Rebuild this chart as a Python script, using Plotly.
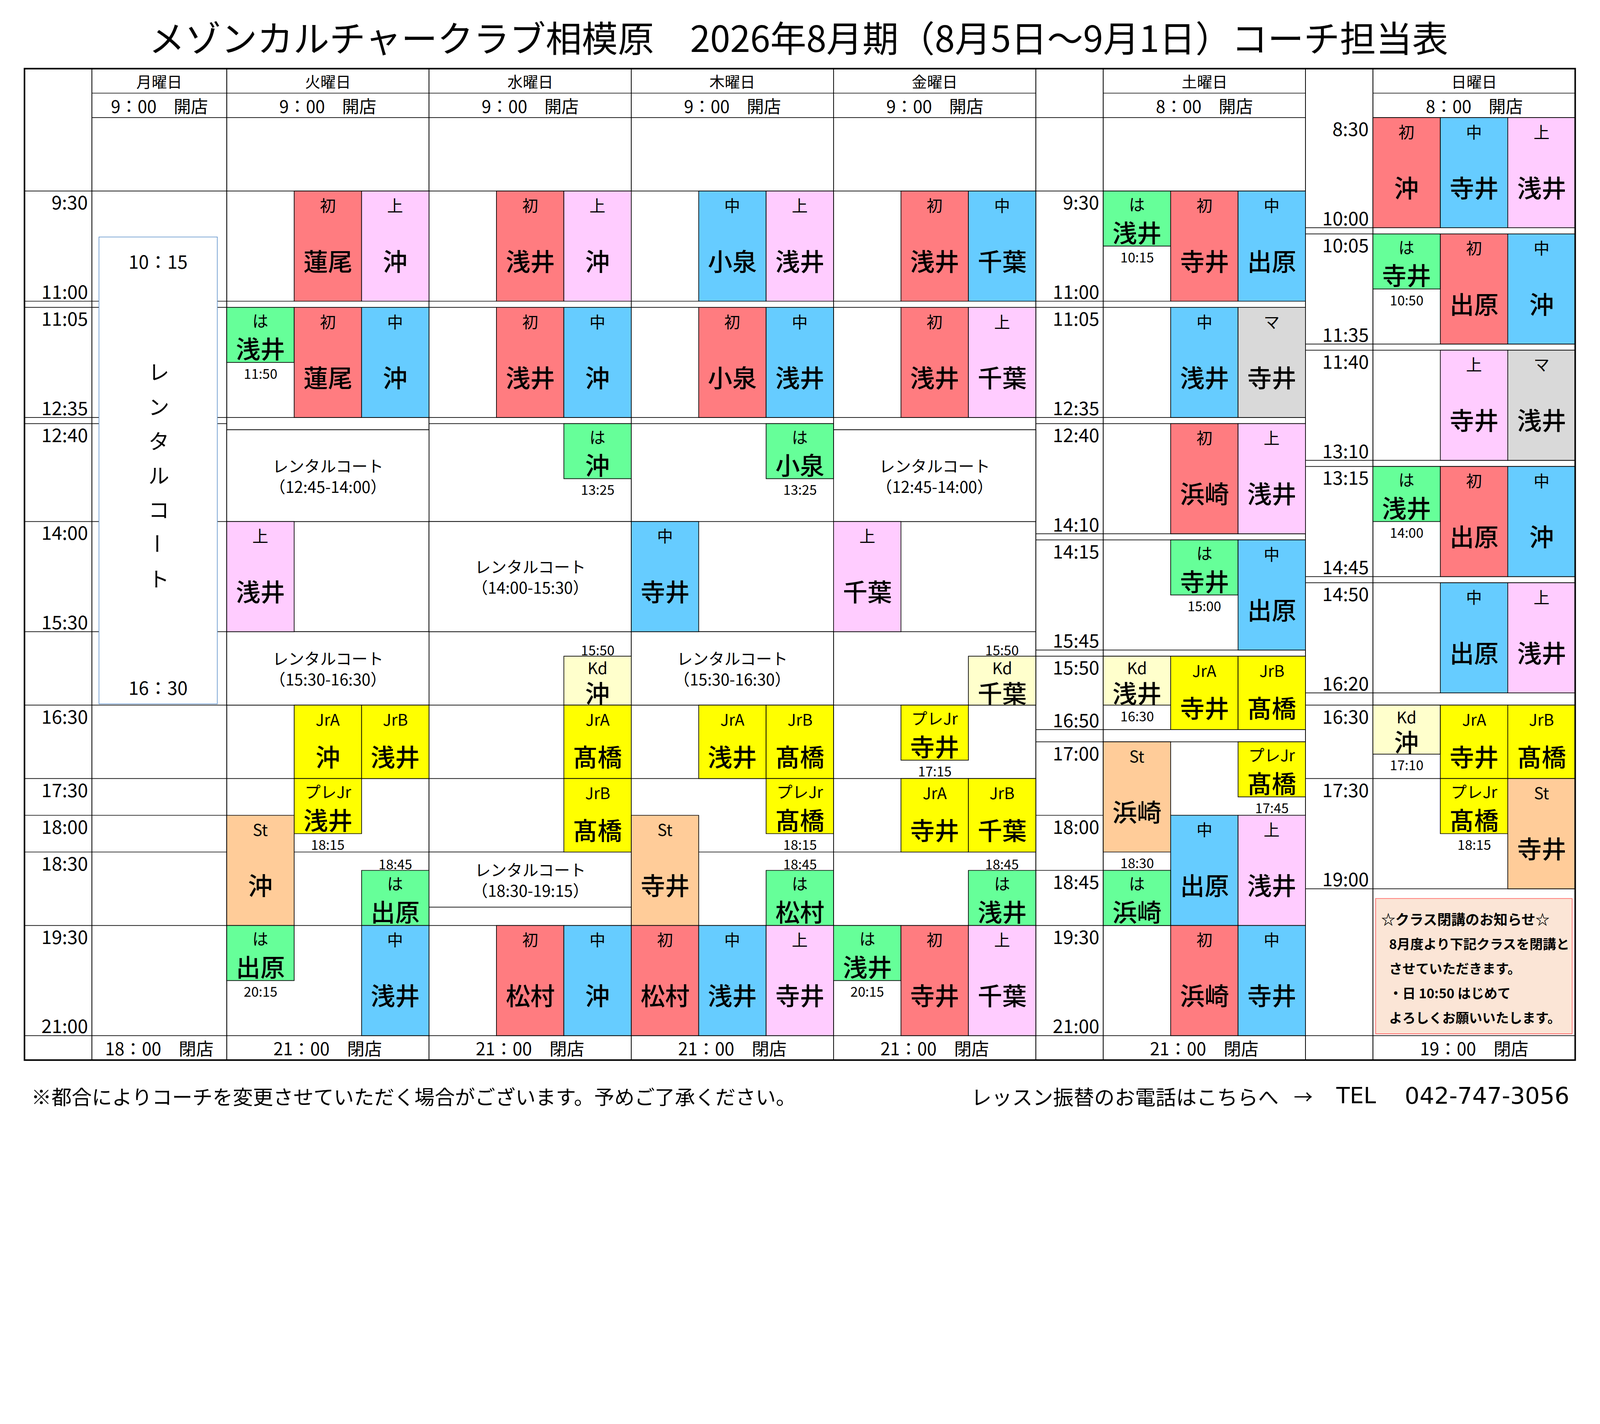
import plotly.graph_objects as go

# ---------------- data ----------------
TITLE = "メゾンカルチャークラブ相模原　2026年8月期（8月5日～9月1日）コーチ担当表"
DAYS = ["月曜日", "火曜日", "水曜日", "木曜日", "金曜日", "土曜日", "日曜日"]
OPEN_TIMES = ["9：00", "9：00", "9：00", "9：00", "9：00", "8：00", "8：00"]
CLOSE_TIMES = ["18：00", "21：00", "21：00", "21：00", "21：00", "21：00", "19：00"]
COURTS = [2, 3, 3, 3, 3, 3, 3]
TIME_COLUMN_BEFORE = [0, 5, 6]

ROWS_MON = ["8:30", "9:30", "11:00", "11:05", "12:35", "12:40", "14:00", "15:30", "16:30",
            "17:30", "18:00", "18:30", "19:30", "21:00"]
ROWS_TUE = ["8:30", "9:30", "11:00", "11:05", "12:35", "12:45", "14:00", "15:30", "16:30",
            "17:30", "18:30", "19:30", "21:00"]
ROWS_WED = ["8:30", "9:30", "11:00", "11:05", "12:35", "12:40", "14:00", "15:30", "16:30",
            "17:30", "18:30", "19:30", "21:00"]
ROWS_THU = ROWS_WED
ROWS_FRI = ROWS_TUE
ROWS_SAT = ["8:30", "9:30", "11:00", "11:05", "12:35", "12:40", "14:10", "14:15", "15:45",
            "15:50", "16:50", "17:00", "18:00", "18:45", "19:30", "21:00"]
ROWS_SUN = ["8:30", "10:00", "10:05", "11:35", "11:40", "13:10", "13:15", "14:45", "14:50",
            "16:20", "16:30", "17:30", "19:00", "21:00"]
ROWS = [ROWS_MON, ROWS_TUE, ROWS_WED, ROWS_THU, ROWS_FRI, ROWS_SAT, ROWS_SUN]

TIME_LABELS_WEEKDAY = [("9:30", "top"), ("11:00", "bottom"), ("11:05", "top"), ("12:35", "bottom"),
                       ("12:40", "top"), ("14:00", "top"), ("15:30", "bottom"), ("16:30", "top"),
                       ("17:30", "top"), ("18:00", "top"), ("18:30", "top"), ("19:30", "top"),
                       ("21:00", "bottom")]
TIME_LABELS_SAT = [("9:30", "top"), ("11:00", "bottom"), ("11:05", "top"), ("12:35", "bottom"),
                   ("12:40", "top"), ("14:10", "bottom"), ("14:15", "top"), ("15:45", "bottom"),
                   ("15:50", "top"), ("16:50", "bottom"), ("17:00", "top"), ("18:00", "top"),
                   ("18:45", "top"), ("19:30", "top"), ("21:00", "bottom")]
TIME_LABELS_SUN = [("8:30", "top"), ("10:00", "bottom"), ("10:05", "top"), ("11:35", "bottom"),
                   ("11:40", "top"), ("13:10", "bottom"), ("13:15", "top"), ("14:45", "bottom"),
                   ("14:50", "top"), ("16:20", "bottom"), ("16:30", "top"), ("17:30", "top"),
                   ("19:00", "bottom")]
TIME_LABELS = [TIME_LABELS_WEEKDAY, TIME_LABELS_SAT, TIME_LABELS_SUN]

# (court, class, start, end, coach, time note)
LESSONS_TUE = [
    (1, "初", "9:30", "11:00", "蓮尾", ""), (2, "上", "9:30", "11:00", "沖", ""),
    (0, "は", "11:05", "11:50", "浅井", "end"), (1, "初", "11:05", "12:35", "蓮尾", ""),
    (2, "中", "11:05", "12:35", "沖", ""), (0, "上", "14:00", "15:30", "浅井", ""),
    (1, "JrA", "16:30", "17:30", "沖", ""), (2, "JrB", "16:30", "17:30", "浅井", ""),
    (1, "プレJr", "17:30", "18:15", "浅井", "end"), (0, "St", "18:00", "19:30", "沖", ""),
    (2, "は", "18:45", "19:30", "出原", "start"), (0, "は", "19:30", "20:15", "出原", "end"),
    (2, "中", "19:30", "21:00", "浅井", ""),
]
LESSONS_WED = [
    (1, "初", "9:30", "11:00", "浅井", ""), (2, "上", "9:30", "11:00", "沖", ""),
    (1, "初", "11:05", "12:35", "浅井", ""), (2, "中", "11:05", "12:35", "沖", ""),
    (2, "は", "12:40", "13:25", "沖", "end"), (2, "Kd", "15:50", "16:30", "沖", "start"),
    (2, "JrA", "16:30", "17:30", "髙橋", ""), (2, "JrB", "17:30", "18:30", "髙橋", ""),
    (1, "初", "19:30", "21:00", "松村", ""), (2, "中", "19:30", "21:00", "沖", ""),
]
LESSONS_THU = [
    (1, "中", "9:30", "11:00", "小泉", ""), (2, "上", "9:30", "11:00", "浅井", ""),
    (1, "初", "11:05", "12:35", "小泉", ""), (2, "中", "11:05", "12:35", "浅井", ""),
    (2, "は", "12:40", "13:25", "小泉", "end"), (0, "中", "14:00", "15:30", "寺井", ""),
    (1, "JrA", "16:30", "17:30", "浅井", ""), (2, "JrB", "16:30", "17:30", "髙橋", ""),
    (2, "プレJr", "17:30", "18:15", "髙橋", "end"), (0, "St", "18:00", "19:30", "寺井", ""),
    (2, "は", "18:45", "19:30", "松村", "start"), (0, "初", "19:30", "21:00", "松村", ""),
    (1, "中", "19:30", "21:00", "浅井", ""), (2, "上", "19:30", "21:00", "寺井", ""),
]
LESSONS_FRI = [
    (1, "初", "9:30", "11:00", "浅井", ""), (2, "中", "9:30", "11:00", "千葉", ""),
    (1, "初", "11:05", "12:35", "浅井", ""), (2, "上", "11:05", "12:35", "千葉", ""),
    (0, "上", "14:00", "15:30", "千葉", ""), (2, "Kd", "15:50", "16:30", "千葉", "start"),
    (1, "プレJr", "16:30", "17:15", "寺井", "end"), (1, "JrA", "17:30", "18:30", "寺井", ""),
    (2, "JrB", "17:30", "18:30", "千葉", ""), (2, "は", "18:45", "19:30", "浅井", "start"),
    (0, "は", "19:30", "20:15", "浅井", "end"), (1, "初", "19:30", "21:00", "寺井", ""),
    (2, "上", "19:30", "21:00", "千葉", ""),
]
LESSONS_SAT = [
    (0, "は", "9:30", "10:15", "浅井", "end"), (1, "初", "9:30", "11:00", "寺井", ""),
    (2, "中", "9:30", "11:00", "出原", ""), (1, "中", "11:05", "12:35", "浅井", ""),
    (2, "マ", "11:05", "12:35", "寺井", ""), (1, "初", "12:40", "14:10", "浜崎", ""),
    (2, "上", "12:40", "14:10", "浅井", ""), (1, "は", "14:15", "15:00", "寺井", "end"),
    (2, "中", "14:15", "15:45", "出原", ""), (0, "Kd", "15:50", "16:30", "浅井", "end"),
    (1, "JrA", "15:50", "16:50", "寺井", ""), (2, "JrB", "15:50", "16:50", "髙橋", ""),
    (0, "St", "17:00", "18:30", "浜崎", "end"), (2, "プレJr", "17:00", "17:45", "髙橋", "end"),
    (1, "中", "18:00", "19:30", "出原", ""), (2, "上", "18:00", "19:30", "浅井", ""),
    (0, "は", "18:45", "19:30", "浜崎", ""), (1, "初", "19:30", "21:00", "浜崎", ""),
    (2, "中", "19:30", "21:00", "寺井", ""),
]
LESSONS_SUN = [
    (0, "初", "8:30", "10:00", "沖", ""), (1, "中", "8:30", "10:00", "寺井", ""),
    (2, "上", "8:30", "10:00", "浅井", ""), (0, "は", "10:05", "10:50", "寺井", "end"),
    (1, "初", "10:05", "11:35", "出原", ""), (2, "中", "10:05", "11:35", "沖", ""),
    (1, "上", "11:40", "13:10", "寺井", ""), (2, "マ", "11:40", "13:10", "浅井", ""),
    (0, "は", "13:15", "14:00", "浅井", "end"), (1, "初", "13:15", "14:45", "出原", ""),
    (2, "中", "13:15", "14:45", "沖", ""), (1, "中", "14:50", "16:20", "出原", ""),
    (2, "上", "14:50", "16:20", "浅井", ""), (0, "Kd", "16:30", "17:10", "沖", "end"),
    (1, "JrA", "16:30", "17:30", "寺井", ""), (2, "JrB", "16:30", "17:30", "髙橋", ""),
    (1, "プレJr", "17:30", "18:15", "髙橋", "end"), (2, "St", "17:30", "19:00", "寺井", ""),
]
LESSONS = [[], LESSONS_TUE, LESSONS_WED, LESSONS_THU, LESSONS_FRI, LESSONS_SAT, LESSONS_SUN]

# (day, start, end)
RENTAL = [(1, "12:45", "14:00"), (1, "15:30", "16:30"), (2, "14:00", "15:30"),
          (2, "18:30", "19:15"), (3, "15:30", "16:30"), (4, "12:45", "14:00")]
RENTAL_LABEL = "レンタルコート"
MON_RENTAL = ("10:15", "16:30")

NOTICE_LINES = ["☆クラス閉講のお知らせ☆", "8月度より下記クラスを閉講と", "させていただきます。",
                "・日 10:50 はじめて", "よろしくお願いいたします。"]
FOOTER_LEFT = "※都合によりコーチを変更させていただく場合がございます。予めご了承ください。"
FOOTER_RIGHT = ["レッスン振替のお電話はこちらへ", "→", "TEL", "042-747-3056"]

# ---------------- styles ----------------
CLASS_COLORS = {"初": "#FF7C80", "上": "#FFCCFF", "中": "#66CCFF", "は": "#66FF99",
                "マ": "#D9D9D9", "JrA": "#FFFF00", "JrB": "#FFFF00", "プレJr": "#FFFF00",
                "St": "#FFCC99", "Kd": "#FFFFCC"}
FONT = "Noto Sans CJK JP"
LATIN = "DejaVu Sans"

# page geometry: screenshot pixels vs CSS pixels
S = 5228 / 4096.0          # device pixel ratio of the capture
MARGIN = 8                 # default body margin (CSS px)
FIG_W, FIG_H = 4078, 2836  # CSS px


def px(v):
    """screenshot pixels -> CSS pixels"""
    return v / S


LW = px(2.2)
OUTER_LW = px(5)


def tm(s):
    h, m = s.split(":")
    return int(h) * 60 + int(m)


# column structure
col_x, timecol_x = [], []
x = 0
for d in range(7):
    if d in TIME_COLUMN_BEFORE:
        timecol_x.append(x)
        x += 1
    col_x.append(x)
    x += COURTS[d]
TOTAL = x

FIRST = tm("8:30")
TOP = FIRST - 40
BOTTOM = tm("21:00") + 20

shapes, annos = [], []


def hline(x0, x1, y, w=None):
    shapes.append(dict(type="line", xref="x", yref="y", x0=x0, x1=x1, y0=y, y1=y,
                       line=dict(color="black", width=w or LW)))


def vline(xx, y0, y1, w=None):
    shapes.append(dict(type="line", xref="x", yref="y", x0=xx, x1=xx, y0=y0, y1=y1,
                       line=dict(color="black", width=w or LW)))


def rect(x0, x1, y0, y1, fill, lc="black", lw=None):
    shapes.append(dict(type="rect", xref="x", yref="y", x0=x0, x1=x1, y0=y0, y1=y1,
                       fillcolor=fill, line=dict(color=lc, width=lw or LW)))


def text(xx, yy, s, size, xa="center", ya="middle", weight="normal", family=FONT, angle=0):
    annos.append(dict(x=xx, y=yy, xref="x", yref="y", text=s, showarrow=False,
                      xanchor=xa, yanchor=ya, textangle=angle,
                      font=dict(family=family, size=px(size), color="black", weight=weight)))


# grid lines
for d in range(7):
    x0, x1 = col_x[d], col_x[d] + COURTS[d]
    hline(x0, x1, TOP + 20)
    for t in ROWS[d]:
        hline(x0, x1, tm(t))
    vline(x0, TOP, BOTTOM)
    vline(x1, TOP, BOTTOM)
    text((x0 + x1) / 2, TOP + 10, DAYS[d], 50)
    text((x0 + x1) / 2, TOP + 30, OPEN_TIMES[d] + "　開店", 56)
    text((x0 + x1) / 2, BOTTOM - 10, CLOSE_TIMES[d] + "　閉店", 57)

TIMECOL_ROWS = [ROWS_MON[1:], ROWS_SAT, ROWS_SUN[1:]]
for i, tc in enumerate(timecol_x):
    for t in TIMECOL_ROWS[i]:
        hline(tc, tc + 1, tm(t))
    vline(tc, TOP, BOTTOM)
    vline(tc + 1, TOP, BOTTOM)
    for lab, pos in TIME_LABELS[i]:
        yy = tm(lab) + 8.5 if pos == "top" else tm(lab) - 8.5
        text(tc + 1 - 0.05, yy, lab, 61, xa="right")

# rental courts
for d, s, e in RENTAL:
    x0, x1 = col_x[d], col_x[d] + COURTS[d]
    rect(x0, x1, tm(s), tm(e), "white")
    text((x0 + x1) / 2, (tm(s) + tm(e)) / 2,
         RENTAL_LABEL + "<br>（" + s + "-" + e + "）", 52)

# Monday rental court box
ms, me = tm(MON_RENTAL[0]), tm(MON_RENTAL[1])
rect(col_x[0] + 0.105, col_x[0] + COURTS[0] - 0.14, ms - 7.5, me - 1, "white",
     lc="#5B8FC9", lw=px(2))
mcx = col_x[0] + COURTS[0] / 2 - 0.02
text(mcx, ms + 12, MON_RENTAL[0].replace(":", "："), 60)
text(mcx, me - 15, MON_RENTAL[1].replace(":", "："), 60)
chars = list(RENTAL_LABEL)
c0, c1 = ms + 102, me - 104
for k, ch in enumerate(chars):
    text(mcx + 0.01, c0 + (c1 - c0) * k / (len(chars) - 1), ch, 68,
         angle=90 if ch == "ー" else 0)

# lessons
for d in range(7):
    for court, cls, s, e, coach, note in LESSONS[d]:
        x0 = col_x[d] + court
        t0, t1 = tm(s), tm(e)
        dur = t1 - t0
        rect(x0, x0 + 1, t0, t1, CLASS_COLORS[cls])
        lab_off = min(11.2, dur * 0.23)
        text(x0 + 0.5, t0 + lab_off, cls, 52)
        text(x0 + 0.5, t0 + lab_off + dur / 2, coach, 80, weight=500)
        if note == "end":
            text(x0 + 0.5, t1 + 8.5, e, 44)
        elif note == "start":
            text(x0 + 0.5, t0 - 5.5, s, 44)

# notice box (Sunday, after closing)
sx = col_x[6]
rect(sx + 0.04, sx + COURTS[6] - 0.045, tm("19:00") + 8, tm("21:00") - 1.5, "#FBE5D6",
     lc="#FF5757", lw=px(2))
ny0 = tm("19:00") + 24.3
for k, line in enumerate(NOTICE_LINES):
    xx = sx + 0.11 if k == 0 else sx + 0.23
    text(xx, ny0 + 20.1 * k, line, 43.5 if k else 46, xa="left", weight="bold")

# outer border
rect(0, TOTAL, TOP, BOTTOM, "rgba(0,0,0,0)", lw=OUTER_LW)

# title and footer
text(TOTAL / 2 - 0.02, TOP - 26.4, TITLE, 118)
FOOT_Y = BOTTOM + 29.2
text(0.09, FOOT_Y, FOOTER_LEFT, 66, xa="left")
text(14.03, FOOT_Y, FOOTER_RIGHT[0], 67, xa="left")
text(18.97, FOOT_Y, FOOTER_RIGHT[1], 62)
text(19.44, FOOT_Y, FOOTER_RIGHT[2], 72, xa="left", family=LATIN)
text(22.93, FOOT_Y, FOOTER_RIGHT[3], 76, xa="right", family=LATIN)

# axes: screenshot pixel -> data coordinates
UNIT = 220.3               # screenshot px per court column
X0PX, Y0PX = 80.0, 384.4   # table left edge, 8:30 line (screenshot px)
PX_PER_MIN = 4.0


def xu(p):
    return (p - X0PX) / UNIT


def yt(p):
    return FIRST + (p - Y0PX) / PX_PER_MIN


fig = go.Figure()
fig.update_layout(
    width=FIG_W, height=FIG_H, margin=dict(l=0, r=0, t=0, b=0),
    paper_bgcolor="white", plot_bgcolor="white", showlegend=False,
    xaxis=dict(range=[xu(MARGIN * S), xu((MARGIN + FIG_W) * S)], visible=False, fixedrange=True),
    yaxis=dict(range=[yt((MARGIN + FIG_H) * S), yt(MARGIN * S)], visible=False, fixedrange=True),
    shapes=shapes, annotations=annos,
)
fig.write_html("out.html")
